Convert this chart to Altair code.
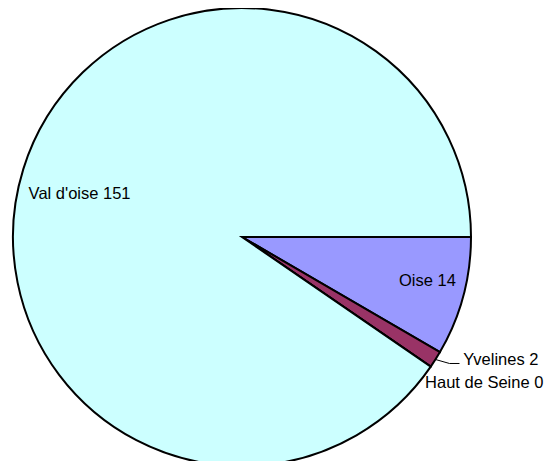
import math
import altair as alt
import pandas as pd

# ---- data ----
names = ["Oise", "Yvelines", "Haut de Seine", "Val d'oise"]
values = [14, 2, 0, 151]
colors = ["#9999FF", "#993366", "#FFFFCC", "#CCFFFF"]

# ---- layout ----
W, H = 536, 453
CX, CY, R = 234, 229, 229
FONT = "Arial"
FS = 16.5

df = pd.DataFrame({
    "name": names,
    "value": values,
    "order": list(range(len(names))),
    "label": [f"{n} {v}" for n, v in zip(names, values)],
})

total = sum(values)
start = math.pi / 2

theta = alt.Theta("value:Q", stack=True,
                  scale=alt.Scale(range=[start, start + 2 * math.pi]))
base = alt.Chart(df).encode(theta=theta, order=alt.Order("order:Q"))

arc = base.mark_arc(stroke="black", strokeWidth=2, radius=R).encode(
    color=alt.Color("name:N", scale=alt.Scale(domain=names, range=colors), legend=None),
    x=alt.value(CX), y=alt.value(CY),
)


def label(idx, r, dx, dy, align):
    return base.transform_calculate(
        t=f"datum.order == {idx} ? datum.label : ''"
    ).mark_text(
        radius=r, dx=dx, dy=dy, align=align, baseline="middle",
        fontSize=FS, font=FONT, color="black",
    ).encode(text="t:N", x=alt.value(CX), y=alt.value(CY))


lab_val = label(3, 168, -2, 7, "center")
lab_oise = label(0, 192, 0, -5.5, "center")
lab_yv = label(1, 250, 10, -10.5, "left")
lab_hs = label(2, 250, -23, 4.5, "left")

# leader line for Yvelines, derived from its slice mid-angle
cum = sum(values[:1])
mid = start + (cum + values[1] / 2) / total * 2 * math.pi
p1 = (CX + R * math.sin(mid), CY - R * math.cos(mid))
p2 = (p1[0] + 14, p1[1] + 4)
p3 = (p2[0] + 10, p2[1])
lead_df = pd.DataFrame({"x": [p1[0], p2[0], p3[0]], "y": [p1[1], p2[1], p3[1]], "i": [0, 1, 2]})
leader = alt.Chart(lead_df).mark_line(color="black", strokeWidth=1).encode(
    x=alt.X("x:Q", scale=None, axis=None),
    y=alt.Y("y:Q", scale=None, axis=None),
    order="i:Q",
)

chart = alt.layer(arc, leader, lab_val, lab_oise, lab_yv, lab_hs).properties(
    width=W, height=H, autosize=alt.AutoSizeParams(type="none"), padding=0,
    background="white",
).configure_view(stroke=None)

chart.save("out.html", embed_options={"renderer": "svg", "actions": False})
